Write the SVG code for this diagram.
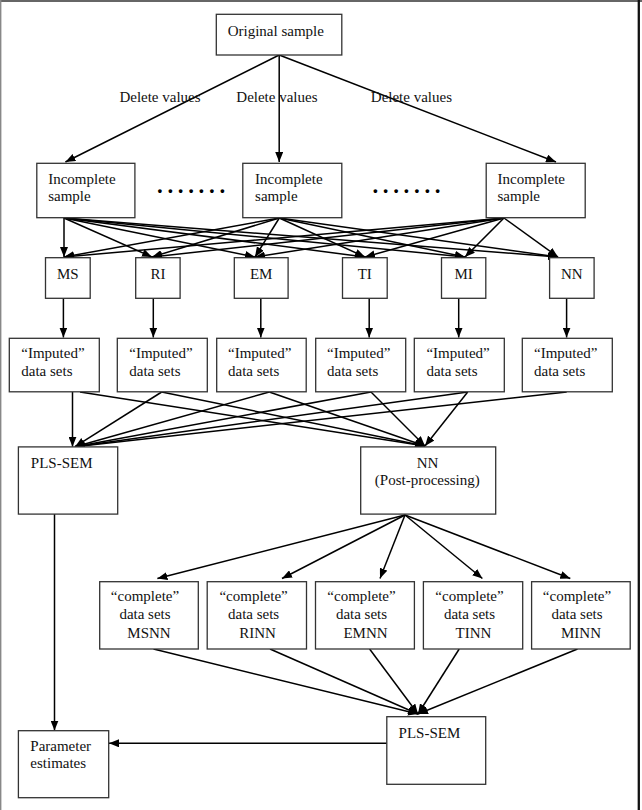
<svg xmlns="http://www.w3.org/2000/svg" width="642" height="810" viewBox="0 0 642 810">
<style>
.box{fill:#fff;stroke:#333;stroke-width:1.3}
.t{font-family:"Liberation Serif","Times New Roman",serif;font-size:15px;fill:#111}
.c{text-anchor:middle}
.ln{stroke:#000;stroke-width:1.5;fill:none}
.ar{stroke:#000;stroke-width:1.5;fill:none;marker-end:url(#ah)}
.dots{font-family:"Liberation Serif","Times New Roman",serif;font-size:23px;font-weight:bold;letter-spacing:4.65px;fill:#000}
</style>
<defs>
<marker id="ah" markerWidth="10" markerHeight="8" refX="10" refY="4" orient="auto" markerUnits="userSpaceOnUse"><path d="M0,0 L10,4 L0,8 z" fill="#000"/></marker>
</defs>
<rect width="642" height="810" fill="#fff"/>
<g id="frame">
<line x1="0" y1="1" x2="642" y2="1" stroke="#666" stroke-width="1.8"/>
<line x1="0.7" y1="0" x2="0.7" y2="810" stroke="#888" stroke-width="1.4"/>
<line x1="638.8" y1="0" x2="638.8" y2="810" stroke="#111" stroke-width="2.3"/>
</g>
<g id="connectors">
<line class="ar" x1="279.2" y1="55" x2="65.4" y2="162"/>
<line class="ar" x1="279.2" y1="55" x2="279.2" y2="162"/>
<line class="ar" x1="279.2" y1="55" x2="556" y2="162"/>
<line class="ar" x1="64" y1="218" x2="64" y2="257"/>
<line class="ar" x1="64" y1="218" x2="152" y2="257"/>
<line class="ar" x1="64" y1="218" x2="255" y2="257"/>
<line class="ar" x1="64" y1="218" x2="365" y2="257"/>
<line class="ar" x1="64" y1="218" x2="465" y2="257"/>
<line class="ar" x1="64" y1="218" x2="558" y2="257"/>
<line class="ar" x1="279.3" y1="218" x2="64" y2="257"/>
<line class="ar" x1="279.3" y1="218" x2="152" y2="257"/>
<line class="ar" x1="279.3" y1="218" x2="255" y2="257"/>
<line class="ar" x1="279.3" y1="218" x2="365" y2="257"/>
<line class="ar" x1="279.3" y1="218" x2="465" y2="257"/>
<line class="ar" x1="279.3" y1="218" x2="558" y2="257"/>
<line class="ar" x1="504" y1="218" x2="64" y2="257"/>
<line class="ar" x1="504" y1="218" x2="152" y2="257"/>
<line class="ar" x1="504" y1="218" x2="255" y2="257"/>
<line class="ar" x1="504" y1="218" x2="365" y2="257"/>
<line class="ar" x1="504" y1="218" x2="465" y2="257"/>
<line class="ar" x1="504" y1="218" x2="558" y2="257"/>
<line class="ar" x1="63.4" y1="298.3" x2="63.4" y2="337.5"/>
<line class="ar" x1="153.3" y1="298.3" x2="153.3" y2="337.5"/>
<line class="ar" x1="260.8" y1="298.3" x2="260.8" y2="337.5"/>
<line class="ar" x1="369.2" y1="298.3" x2="369.2" y2="337.5"/>
<line class="ar" x1="458.7" y1="298.3" x2="458.7" y2="337.5"/>
<line class="ar" x1="566.6" y1="298.3" x2="566.6" y2="337.5"/>
<line class="ar" x1="72.5" y1="392" x2="72.5" y2="446.7"/>
<line class="ar" x1="161.7" y1="392" x2="75" y2="446.7"/>
<line class="ar" x1="269.3" y1="392" x2="75" y2="446.7"/>
<line class="ar" x1="371" y1="392" x2="75" y2="446.7"/>
<line class="ar" x1="467.7" y1="392" x2="75" y2="446.7"/>
<line class="ar" x1="566.7" y1="392" x2="75" y2="446.7"/>
<line class="ar" x1="80" y1="392" x2="425" y2="446"/>
<line class="ar" x1="161.7" y1="392" x2="425" y2="446"/>
<line class="ar" x1="269.3" y1="392" x2="425" y2="446"/>
<line class="ar" x1="371" y1="392" x2="425" y2="446"/>
<line class="ar" x1="467.7" y1="392" x2="425" y2="446"/>
<line class="ar" x1="405" y1="515" x2="157.4" y2="578.5"/>
<line class="ar" x1="405" y1="515" x2="282" y2="578.5"/>
<line class="ar" x1="405" y1="515" x2="380" y2="578.5"/>
<line class="ar" x1="405" y1="515" x2="482.4" y2="578.5"/>
<line class="ar" x1="405" y1="515" x2="570.3" y2="578.5"/>
<line class="ar" x1="153.5" y1="649" x2="418" y2="714"/>
<line class="ar" x1="270" y1="649" x2="418" y2="714"/>
<line class="ar" x1="369.6" y1="649" x2="418" y2="714"/>
<line class="ar" x1="459.2" y1="649" x2="418" y2="714"/>
<line class="ar" x1="577.5" y1="649" x2="418" y2="714"/>
<line class="ar" x1="54.5" y1="514" x2="54.5" y2="730.5"/>
<line class="ar" x1="386.8" y1="743.3" x2="109" y2="743.3"/>
</g>
<g id="original">
<rect class="box" x="216.3" y="14.3" width="125.5" height="40.7"/>
<text class="t" x="227.7" y="36">Original sample</text>
</g>
<g id="labels">
<text class="t" x="119.4" y="102">Delete values</text>
<text class="t" x="236.3" y="102">Delete values</text>
<text class="t" x="370.8" y="102">Delete values</text>
</g>
<g id="incomplete1">
<rect class="box" x="36.8" y="163.3" width="98.1" height="54.4"/>
<text class="t" x="48.2" y="184">Incomplete</text>
<text class="t" x="48.2" y="201">sample</text>
</g>
<g id="incomplete2">
<rect class="box" x="242.8" y="163.3" width="99" height="54.4"/>
<text class="t" x="255.1" y="184">Incomplete</text>
<text class="t" x="255.1" y="201">sample</text>
</g>
<g id="incomplete3">
<rect class="box" x="486.2" y="163.3" width="99" height="54.4"/>
<text class="t" x="497.5" y="184">Incomplete</text>
<text class="t" x="497.5" y="201">sample</text>
</g>
<g id="ellipses">
<text class="dots" x="157" y="192.5">.......</text>
<text class="dots" x="372.4" y="192.5">.......</text>
</g>
<g id="m-MS"><rect class="box" x="45.5" y="257.7" width="44.7" height="40.6"/><text class="t c" x="67.8" y="278.5">MS</text></g>
<g id="m-RI"><rect class="box" x="135.7" y="257.7" width="44.4" height="40.6"/><text class="t c" x="157.9" y="278.5">RI</text></g>
<g id="m-EM"><rect class="box" x="234.3" y="257.7" width="53.8" height="40.6"/><text class="t c" x="261.2" y="278.5">EM</text></g>
<g id="m-TI"><rect class="box" x="342.5" y="257.7" width="44.7" height="40.6"/><text class="t c" x="364.8" y="278.5">TI</text></g>
<g id="m-MI"><rect class="box" x="441.5" y="257.7" width="44.3" height="40.6"/><text class="t c" x="463.6" y="278.5">MI</text></g>
<g id="m-NN"><rect class="box" x="549.6" y="257.7" width="44.5" height="40.6"/><text class="t c" x="571.8" y="278.5">NN</text></g>
<g id="imp1"><rect class="box" x="9.3" y="338.3" width="90" height="53.5"/><text class="t" x="21.3" y="357.5">“Imputed”</text><text class="t" x="21.3" y="375.5">data sets</text></g>
<g id="imp2"><rect class="box" x="117.3" y="338.3" width="90" height="53.5"/><text class="t" x="129.3" y="357.5">“Imputed”</text><text class="t" x="129.3" y="375.5">data sets</text></g>
<g id="imp3"><rect class="box" x="216.7" y="338.3" width="89.5" height="53.5"/><text class="t" x="228" y="357.5">“Imputed”</text><text class="t" x="228" y="375.5">data sets</text></g>
<g id="imp4"><rect class="box" x="315.7" y="338.3" width="90" height="53.5"/><text class="t" x="327" y="357.5">“Imputed”</text><text class="t" x="327" y="375.5">data sets</text></g>
<g id="imp5"><rect class="box" x="414.3" y="338.3" width="90" height="53.5"/><text class="t" x="426.4" y="357.5">“Imputed”</text><text class="t" x="426.4" y="375.5">data sets</text></g>
<g id="imp6"><rect class="box" x="522.3" y="338.3" width="90" height="53.5"/><text class="t" x="534" y="357.5">“Imputed”</text><text class="t" x="534" y="375.5">data sets</text></g>
<g id="pls1"><rect class="box" x="18.4" y="446.9" width="99.3" height="67.2"/><text class="t" x="30.8" y="468">PLS-SEM</text></g>
<g id="nnpost"><rect class="box" x="360.7" y="446.9" width="135" height="67.2"/><text class="t c" x="427.5" y="467.5">NN</text><text class="t c" x="427.3" y="485">(Post-processing)</text></g>
<g id="c1"><rect class="box" x="99.7" y="581.7" width="98.6" height="67.3"/><text class="t c" x="145" y="600.5">“complete”</text><text class="t c" x="145" y="619">data sets</text><text class="t c" x="149" y="637.5">MSNN</text></g>
<g id="c2"><rect class="box" x="207.2" y="581.7" width="99.3" height="67.3"/><text class="t c" x="253.6" y="600.5">“complete”</text><text class="t c" x="253.6" y="619">data sets</text><text class="t c" x="257.5" y="637.5">RINN</text></g>
<g id="c3"><rect class="box" x="315.5" y="581.7" width="98.9" height="67.3"/><text class="t c" x="361.5" y="600.5">“complete”</text><text class="t c" x="361.5" y="619">data sets</text><text class="t c" x="365.5" y="637.5">EMNN</text></g>
<g id="c4"><rect class="box" x="423.4" y="581.7" width="99.3" height="67.3"/><text class="t c" x="469.5" y="600.5">“complete”</text><text class="t c" x="469.5" y="619">data sets</text><text class="t c" x="473.5" y="637.5">TINN</text></g>
<g id="c5"><rect class="box" x="531.6" y="581.7" width="98.6" height="67.3"/><text class="t c" x="577" y="600.5">“complete”</text><text class="t c" x="577" y="619">data sets</text><text class="t c" x="581" y="637.5">MINN</text></g>
<g id="pls2"><rect class="box" x="386.8" y="716.7" width="98.9" height="67.6"/><text class="t" x="398.6" y="738">PLS-SEM</text></g>
<g id="params"><rect class="box" x="18.4" y="730.7" width="90.3" height="67"/><text class="t" x="30.3" y="751">Parameter</text><text class="t" x="30.3" y="768">estimates</text></g>
</svg>
